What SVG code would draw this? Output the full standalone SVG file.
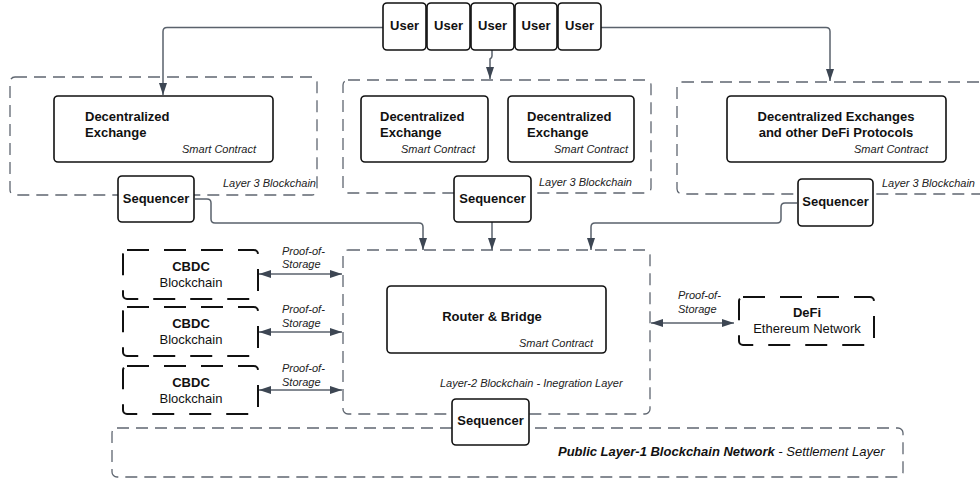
<svg xmlns="http://www.w3.org/2000/svg" width="980" height="480" viewBox="0 0 980 480">
<defs>
<style>
.bg{fill:#fff}
.cont{fill:none;stroke:#5f6670;stroke-width:1.3;stroke-dasharray:12 7}
.node{fill:#fff;stroke:#111;stroke-width:1.6}
.dnode{fill:#fff;stroke:#111;stroke-width:2;stroke-dasharray:22 15}
.conn{fill:none;stroke:#5a626c;stroke-width:1.5}
.b{font-family:"Liberation Sans",Arial,sans-serif;font-size:13px;font-weight:bold;fill:#111}
.r{font-family:"Liberation Sans",Arial,sans-serif;font-size:13px;fill:#111}
.i{font-family:"Liberation Sans",Arial,sans-serif;font-size:11px;font-style:italic;fill:#222}
.c{text-anchor:middle}
.e{text-anchor:end}
</style>
<marker id="ah" viewBox="0 0 12 8" refX="12" refY="4" markerWidth="12" markerHeight="8" markerUnits="userSpaceOnUse" orient="auto-start-reverse">
<path d="M0,0 L12,4 L0,8 z" fill="#3d4653"/>
</marker>
</defs>
<rect class="bg" x="0" y="0" width="980" height="480"/>

<g id="containers">
<rect id="l3a" class="cont" x="10" y="77" width="307" height="118" rx="5"/>
<rect id="l3b" class="cont" x="343" y="80" width="308" height="113" rx="5"/>
<rect id="l3c" class="cont" x="677" y="82" width="330" height="112" rx="5"/>
<rect id="l2" class="cont" x="343" y="250" width="307" height="164" rx="5"/>
<rect id="l1" class="cont" x="112" y="428" width="791" height="49" rx="5"/>
<text class="i" x="223" y="187">Layer 3 Blockchain</text>
<text class="i" x="539" y="186">Layer 3 Blockchain</text>
<text class="i" x="882" y="187">Layer 3 Blockchain</text>
<text class="i" x="440" y="387">Layer-2 Blockchain - Inegration Layer</text>
<text class="r" x="558" y="456"><tspan font-weight="bold" font-style="italic">Public Layer-1 Blockchain Network</tspan><tspan font-style="italic"> - Settlement Layer</tspan></text>
</g>

<g id="connectors">
<path class="conn" d="M383,27.5 H167 Q163,27.5 163,31.5 V95" marker-end="url(#ah)"/>
<path class="conn" d="M601,27.5 H826 Q830,27.5 830,31.5 V81" marker-end="url(#ah)"/>
<path class="conn" d="M492,50 V56 Q492,58 490,59 V79" marker-end="url(#ah)"/>
<path class="conn" d="M195,199 H207 Q211,199 211,203 V219 Q211,223 215,223 H419 Q423,223 423,227 V250" marker-end="url(#ah)"/>
<path class="conn" d="M492,222 V250" marker-end="url(#ah)"/>
<path class="conn" d="M797,203 H785 Q781,203 781,207 V219 Q781,223 777,223 H595 Q591,223 591,227 V250" marker-end="url(#ah)"/>
<path class="conn" d="M259,274 H342" marker-start="url(#ah)" marker-end="url(#ah)"/>
<path class="conn" d="M259,332 H342" marker-start="url(#ah)" marker-end="url(#ah)"/>
<path class="conn" d="M259,390 H342" marker-start="url(#ah)" marker-end="url(#ah)"/>
<path class="conn" d="M651,323 H734" marker-start="url(#ah)" marker-end="url(#ah)"/>
<text class="i" x="282" y="255">Proof-of-</text>
<text class="i" x="282" y="268">Storage</text>
<text class="i" x="282" y="313">Proof-of-</text>
<text class="i" x="282" y="327">Storage</text>
<text class="i" x="282" y="372">Proof-of-</text>
<text class="i" x="282" y="386">Storage</text>
<text class="i" x="678" y="299">Proof-of-</text>
<text class="i" x="678" y="313">Storage</text>
</g>

<g id="user1"><rect class="node" x="383" y="3" width="43" height="47" rx="4"/><text class="b c" x="404.5" y="30">User</text></g>
<g id="user2"><rect class="node" x="427" y="3" width="43" height="47" rx="4"/><text class="b c" x="448.5" y="30">User</text></g>
<g id="user3"><rect class="node" x="471" y="3" width="43" height="47" rx="4"/><text class="b c" x="492.5" y="30">User</text></g>
<g id="user4"><rect class="node" x="515" y="3" width="42" height="47" rx="4"/><text class="b c" x="536" y="30">User</text></g>
<g id="user5"><rect class="node" x="558" y="3" width="43" height="47" rx="4"/><text class="b c" x="579.5" y="30">User</text></g>

<g id="dex1"><rect class="node" x="54" y="96" width="219" height="66" rx="4"/>
<text class="b" x="85" y="121">Decentralized</text><text class="b" x="85" y="137">Exchange</text>
<text class="i e" x="256" y="153">Smart Contract</text></g>
<g id="dex2a"><rect class="node" x="361" y="96" width="127" height="66" rx="4"/>
<text class="b" x="380" y="121">Decentralized</text><text class="b" x="380" y="137">Exchange</text>
<text class="i e" x="475" y="153">Smart Contract</text></g>
<g id="dex2b"><rect class="node" x="508" y="96" width="126" height="66" rx="4"/>
<text class="b" x="527" y="121">Decentralized</text><text class="b" x="527" y="137">Exchange</text>
<text class="i e" x="628" y="153">Smart Contract</text></g>
<g id="dex3"><rect class="node" x="727" y="96" width="219" height="66" rx="4"/>
<text class="b c" x="836" y="121">Decentralized Exchanges</text><text class="b c" x="836" y="137">and other DeFi Protocols</text>
<text class="i e" x="928" y="153">Smart Contract</text></g>

<g id="seq1"><rect class="node" x="118" y="176" width="76" height="46" rx="4"/><text class="b c" x="156" y="203">Sequencer</text></g>
<g id="seq2"><rect class="node" x="454" y="176" width="77" height="46" rx="4"/><text class="b c" x="492.5" y="203">Sequencer</text></g>
<g id="seq3"><rect class="node" x="798" y="179" width="75" height="47" rx="4"/><text class="b c" x="835.5" y="206">Sequencer</text></g>

<g id="cbdc1"><rect class="dnode" x="123" y="250" width="135" height="49" rx="4"/><text class="b c" x="191" y="271">CBDC</text><text class="r c" x="191" y="287">Blockchain</text></g>
<g id="cbdc2"><rect class="dnode" x="123" y="307" width="135" height="49" rx="4"/><text class="b c" x="191" y="328">CBDC</text><text class="r c" x="191" y="344">Blockchain</text></g>
<g id="cbdc3"><rect class="dnode" x="123" y="366" width="135" height="48" rx="4"/><text class="b c" x="191" y="387">CBDC</text><text class="r c" x="191" y="403">Blockchain</text></g>

<g id="router"><rect class="node" x="387" y="286" width="219" height="67" rx="4"/>
<text class="b c" x="492" y="321">Router &amp; Bridge</text>
<text class="i e" x="593" y="347">Smart Contract</text></g>

<g id="defi"><rect class="dnode" x="739" y="297" width="135" height="48" rx="4"/><text class="b c" x="807" y="317">DeFi</text><text class="r c" x="807" y="333">Ethereum Network</text></g>

<g id="seqL2"><rect class="node" x="452" y="399" width="77" height="46" rx="4"/><text class="b c" x="490.5" y="425">Sequencer</text></g>
</svg>
